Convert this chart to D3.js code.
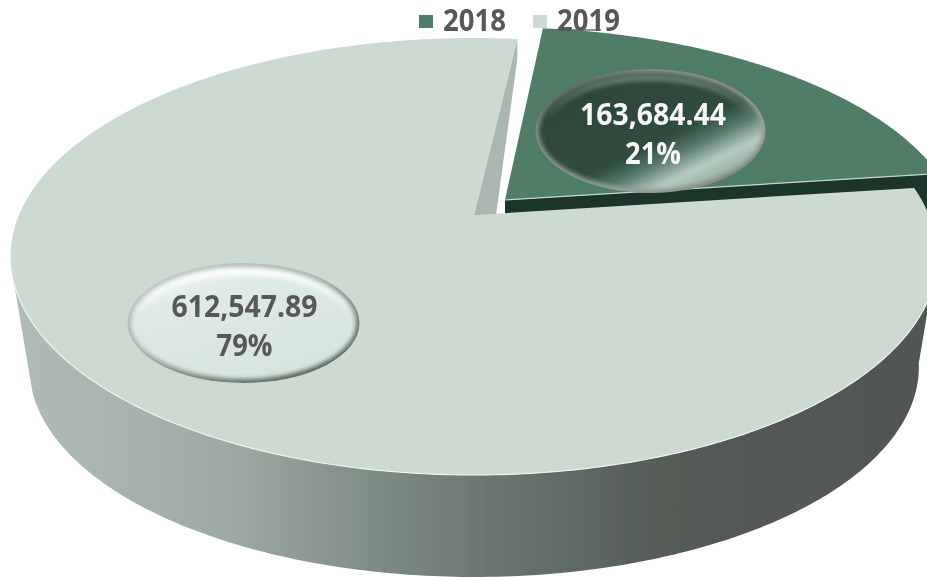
<!DOCTYPE html>
<html><head><meta charset="utf-8">
<script src="https://cdn.jsdelivr.net/npm/d3@7"></script>
<style>html,body{margin:0;padding:0;background:#fff;overflow:hidden}svg{display:block}text{font-family:"Open Sans",sans-serif;font-weight:700}</style>
</head><body><div id="c"></div>
<script>
const years = ["2018","2019"];
const values = [163684.44, 612547.89];
const valueLabels = ["163,684.44","612,547.89"];
const percentLabels = ["21%","79%"];
const sliceColors = ["#4f7d66","#cddad2"];

const W=927,H=577, cx=474, cy=215, sx=455, sy=210.6, persp=0.19;
const svg=d3.select("#c").append("svg").attr("width",W).attr("height",H);
const defs=svg.append("defs");
function grad(id,x1,y1,x2,y2,stops,user){
  const g=defs.append("linearGradient").attr("id",id).attr("x1",x1).attr("y1",y1).attr("x2",x2).attr("y2",y2);
  if(user) g.attr("gradientUnits","userSpaceOnUse");
  stops.forEach(s=>g.append("stop").attr("offset",s[0]).attr("stop-color",s[1]).attr("stop-opacity",s[2]===undefined?1:s[2]));
}
grad("side",0,0,W,0,[[0.01,"#b0bcb5"],[0.12,"#a8b5ae"],[0.25,"#9daaa3"],[0.33,"#8d9b94"],[0.42,"#7b8983"],[0.52,"#6c7872"],[0.63,"#5e6863"],[0.72,"#545b57"],[1,"#505652"]],true);
grad("darkEdge",0,0,1,1,[[0,"#3c5045"],[0.25,"#8a9089"],[0.7,"#9a9f9c"],[1,"#6b6f6c"]]);
grad("darkFill",0.1,0.1,0.85,0.9,[[0,"#2c4739"],[0.6,"#2e4c3d"],[0.72,"#56786a"],[0.86,"#b6cdc2"],[1,"#8eaa9c"]]);
grad("lightEdge",0,0,0.8,1,[[0,"#c5cec9"],[0.45,"#a9b2ad"],[1,"#4f5a54"]]);
grad("lightFill",0.1,0,0.7,1,[[0,"#eef6f2"],[0.3,"#dfeae5"],[1,"#d4e4dc"]]);
grad("rimLight",0,0,0,1,[[0,"#ffffff",0.95],[0.45,"#ffffff",0],[1,"#ffffff",0]]);
grad("rimDark",0,0,0,1,[[0,"#9fb5aa",0.5],[0.4,"#9fb5aa",0],[1,"#9fb5aa",0]]);
defs.append("filter").attr("id","soft").attr("x","-5%").attr("y","-5%").attr("width","110%").attr("height","110%")
  .append("feGaussianBlur").attr("stdDeviation",0.6);
defs.append("filter").attr("id","bevel").attr("x","-10%").attr("y","-10%").attr("width","120%").attr("height","120%")
  .append("feGaussianBlur").attr("stdDeviation",2);

const pie=d3.pie().sort(null).startAngle(6.5*Math.PI/180).endAngle((6.5+360)*Math.PI/180);
const arcs=pie(values);
function project(u,v){const k=1-persp*v;return [cx+sx*u/k, cy+sy*v/k];}
const pt=(t,du=0,dv=0)=>project(Math.sin(t)+du,-Math.cos(t)+dv);
const lower=p=>[cx+(p[0]-cx)*0.96, cy+(p[1]-cy)*0.963+111.6];
const line=d3.line();
const angles=(a,b,n=200)=>d3.range(n+1).map(i=>a+(b-a)*i/n);
const rad=d=>d*Math.PI/180;

const g=svg.append("g").attr("filter","url(#soft)");
const big=arcs[1], small=arcs[0];
const du=0.069, dv=-0.0722;

// outer wall of the large slice
const wallA=angles(rad(100),rad(252));
g.append("path").attr("d",line(wallA.map(t=>pt(t)).concat(wallA.slice().reverse().map(t=>lower(pt(t)))))+"Z").attr("fill","url(#side)");

// inner cut walls
const sApex=project(du,dv), sA=pt(small.startAngle,du,dv), sB=pt(small.endAngle,du,dv);
g.append("path").attr("d",line([sApex,sB,[sB[0],sB[1]+42],[sApex[0],sApex[1]+14]])+"Z").attr("fill","#1d352b");
const bApex=project(0,0), bEnd=pt(big.endAngle);
g.append("path").attr("d",line([bApex,bEnd,[bEnd[0],bEnd[1]+20],[bApex[0]+22,bApex[1]]])+"Z").attr("fill","#a9b7b0");

// top faces
const bigPts=[bApex].concat(angles(big.startAngle,big.endAngle,400).map(t=>pt(t)));
g.append("path").attr("d",line(bigPts)+"Z").attr("fill",sliceColors[1]);
g.append("path").attr("d",line(angles(rad(108),rad(252)).map(t=>pt(t)))).attr("fill","none").attr("stroke","#eef4f0").attr("stroke-width",1.2);
const smallPts=[sApex].concat(angles(small.startAngle,small.endAngle).map(t=>pt(t,du,dv)));
g.append("path").attr("d",line(smallPts)+"Z").attr("fill",sliceColors[0]);
g.append("path").attr("d",line([sApex,sB])).attr("stroke","#c4d6cc").attr("stroke-width",1.2).attr("fill","none");

// label bubbles
const bubbles=[
 {cx:650.5,cy:131,rx:115,ry:62,edge:"url(#darkEdge)",fill:"url(#darkFill)",rim:"url(#rimDark)",text:"#f6f7f6",base:[125,164],tx:653},
 {cx:243.5,cy:323,rx:116,ry:60,edge:"url(#lightEdge)",fill:"url(#lightFill)",rim:"url(#rimLight)",text:"#595959",base:[317,356],tx:244.5}];
bubbles.forEach(b=>{
  g.append("ellipse").attr("cx",b.cx).attr("cy",b.cy).attr("rx",b.rx).attr("ry",b.ry).attr("fill",b.edge);
  g.append("ellipse").attr("cx",b.cx).attr("cy",b.cy).attr("rx",b.rx-3.5).attr("ry",b.ry-4).attr("fill",b.fill).attr("filter","url(#bevel)");
  g.append("ellipse").attr("cx",b.cx).attr("cy",b.cy).attr("rx",b.rx-9).attr("ry",b.ry-9).attr("fill","none").attr("stroke",b.rim).attr("stroke-width",6).attr("filter","url(#bevel)");
});
// legend underline artefact
g.append("line").attr("x1",548).attr("x2",601).attr("y1",30).attr("y2",30).attr("stroke","#6b6b6b").attr("stroke-width",1.4);

// legend
const legendX=d3.scaleOrdinal().domain(years).range([419,533]);
const lg=svg.append("g").attr("filter","url(#soft)");
years.forEach((y,i)=>{
  lg.append("rect").attr("x",legendX(y)).attr("y",15).attr("width",14).attr("height",13).attr("fill",sliceColors[i]);
  lg.append("text").attr("x",legendX(y)+24).attr("y",31).attr("font-size",29.5)
    .attr("textLength",63).attr("lengthAdjust","spacingAndGlyphs").attr("fill","#595959").text(y);
});
// labels
const tg=svg.append("g").attr("filter","url(#soft)");
bubbles.forEach((b,i)=>{
  tg.append("text").attr("x",b.tx).attr("y",b.base[0]).attr("text-anchor","middle").attr("font-size",29.5)
    .attr("textLength",146).attr("lengthAdjust","spacingAndGlyphs").attr("fill",b.text).text(valueLabels[i]);
  tg.append("text").attr("x",b.tx).attr("y",b.base[1]).attr("text-anchor","middle").attr("font-size",29.5)
    .attr("textLength",56).attr("lengthAdjust","spacingAndGlyphs").attr("fill",b.text).text(percentLabels[i]);
});
</script></body></html>
